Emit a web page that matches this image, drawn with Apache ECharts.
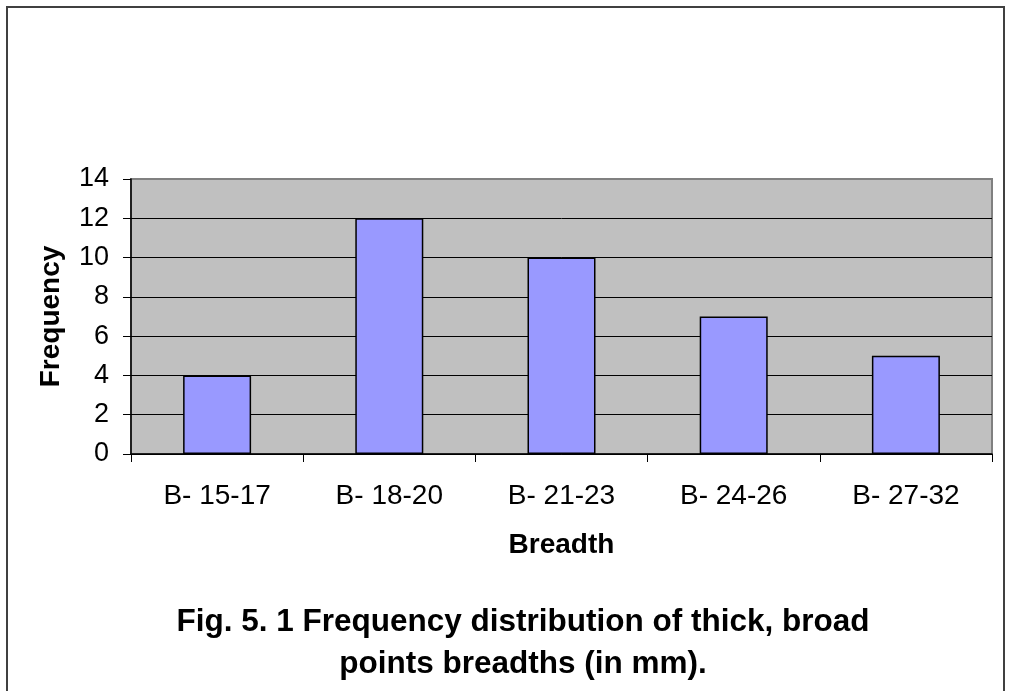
<!DOCTYPE html>
<html>
<head>
<meta charset="utf-8">
<script src="https://cdn.jsdelivr.net/npm/echarts@6/dist/echarts.min.js"></script>
<style>
  html, body { margin: 0; padding: 0; background: #fff; }
  #main { width: 1015px; height: 691px; }
</style>
</head>
<body>
<div id="main"></div>
<script>
// data
var categories = ['B- 15-17', 'B- 18-20', 'B- 21-23', 'B- 24-26', 'B- 27-32']
var frequency = [4, 12, 10, 7, 5]

var font = 'Arial, "Liberation Sans", sans-serif'

var myChart = echarts.init(document.getElementById('main'))

var option = {
  backgroundColor: '#fff',
  animation: false,
  title: {
    text: 'Fig. 5. 1 Frequency distribution of thick, broad\npoints breadths (in mm).',
    left: 518,
    top: 596,
    textAlign: 'center',
    textStyle: {
      fontFamily: font,
      fontSize: 31.5,
      fontWeight: 'bold',
      color: '#000',
      lineHeight: 42
    }
  },
  graphic: [
    {
      type: 'rect',
      shape: { x: 7, y: 7, width: 997, height: 720 },
      style: { fill: 'none', stroke: '#404040', lineWidth: 2 },
      silent: true
    }
  ],
  grid: {
    left: 131,
    right: 23,
    top: 179,
    bottom: 237,
    show: true,
    backgroundColor: '#c0c0c0',
    borderColor: '#808080',
    borderWidth: 2
  },
  xAxis: {
    type: 'category',
    data: categories,
    name: 'Breadth',
    nameLocation: 'middle',
    nameGap: 77,
    nameTextStyle: { fontFamily: font, fontSize: 28, fontWeight: 'bold', color: '#000' },
    axisLine: { lineStyle: { color: '#000', width: 1.5 } },
    axisTick: { show: true, length: 8, lineStyle: { color: '#000' } },
    axisLabel: { fontFamily: font, fontSize: 28, color: '#000', margin: 28 }
  },
  yAxis: {
    type: 'value',
    min: 0,
    max: 14,
    interval: 2,
    name: 'Frequency',
    nameLocation: 'middle',
    nameGap: 66,
    nameTextStyle: { fontFamily: font, fontSize: 28, fontWeight: 'bold', color: '#000' },
    axisLine: { show: true, lineStyle: { color: '#000', width: 1.5 } },
    axisTick: { show: true, length: 8, lineStyle: { color: '#000' } },
    axisLabel: { fontFamily: font, fontSize: 27, color: '#000', margin: 22 },
    splitLine: {
      show: true,
      lineStyle: {
        color: ['#000', '#000', '#000', '#000', '#000', '#000', '#000', '#808080'],
        width: 1
      }
    }
  },
  series: [
    {
      type: 'bar',
      data: frequency,
      barWidth: 68,
      itemStyle: { color: '#9999ff', borderColor: '#000', borderWidth: 1.5 }
    }
  ]
}

myChart.setOption(option)
</script>
</body>
</html>
